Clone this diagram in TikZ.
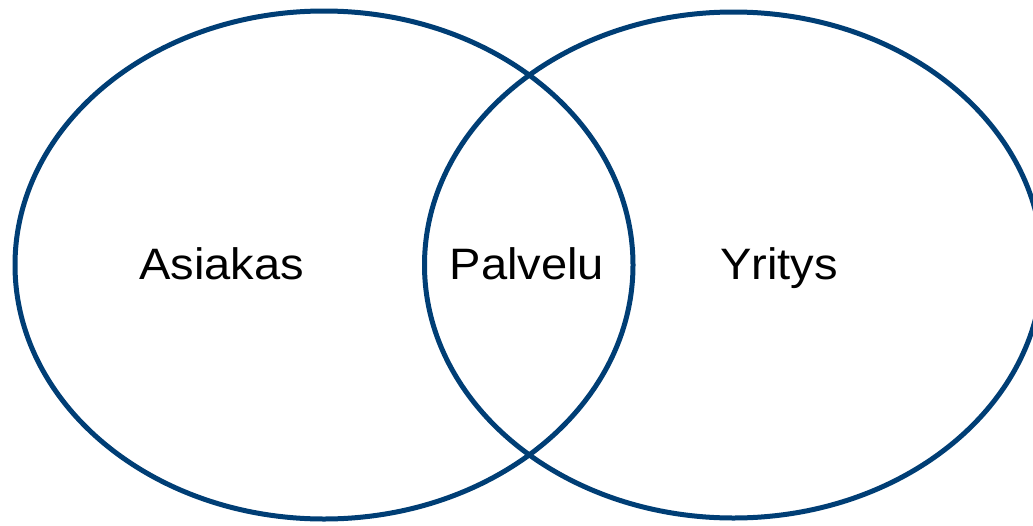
\documentclass[tikz,border=0pt]{standalone}
\usepackage{fontspec}
\setmainfont{Liberation Sans}
\definecolor{vennblue}{RGB}{0,62,117}
\begin{document}
\begin{tikzpicture}[x=1pt,y=-1pt,
  ring/.style={draw=vennblue,line width=5pt},
  label/.style={anchor=base,inner sep=0pt,font=\fontsize{44}{50}\selectfont,xscale=1.07,transform shape}]
\useasboundingbox (0,0) rectangle (1033,525);
\draw[ring] (324,265) ellipse [x radius=309,y radius=254];
\draw[ring] (733.5,265) ellipse [x radius=309,y radius=253];
\node[label] (asiakas) at (221.6,279.3) {Asiakas};
\node[label] (palvelu) at (527,279.3) {Palvelu};
\node[label] (yritys) at (779,279.3) {Yritys};
\end{tikzpicture}
\end{document}
